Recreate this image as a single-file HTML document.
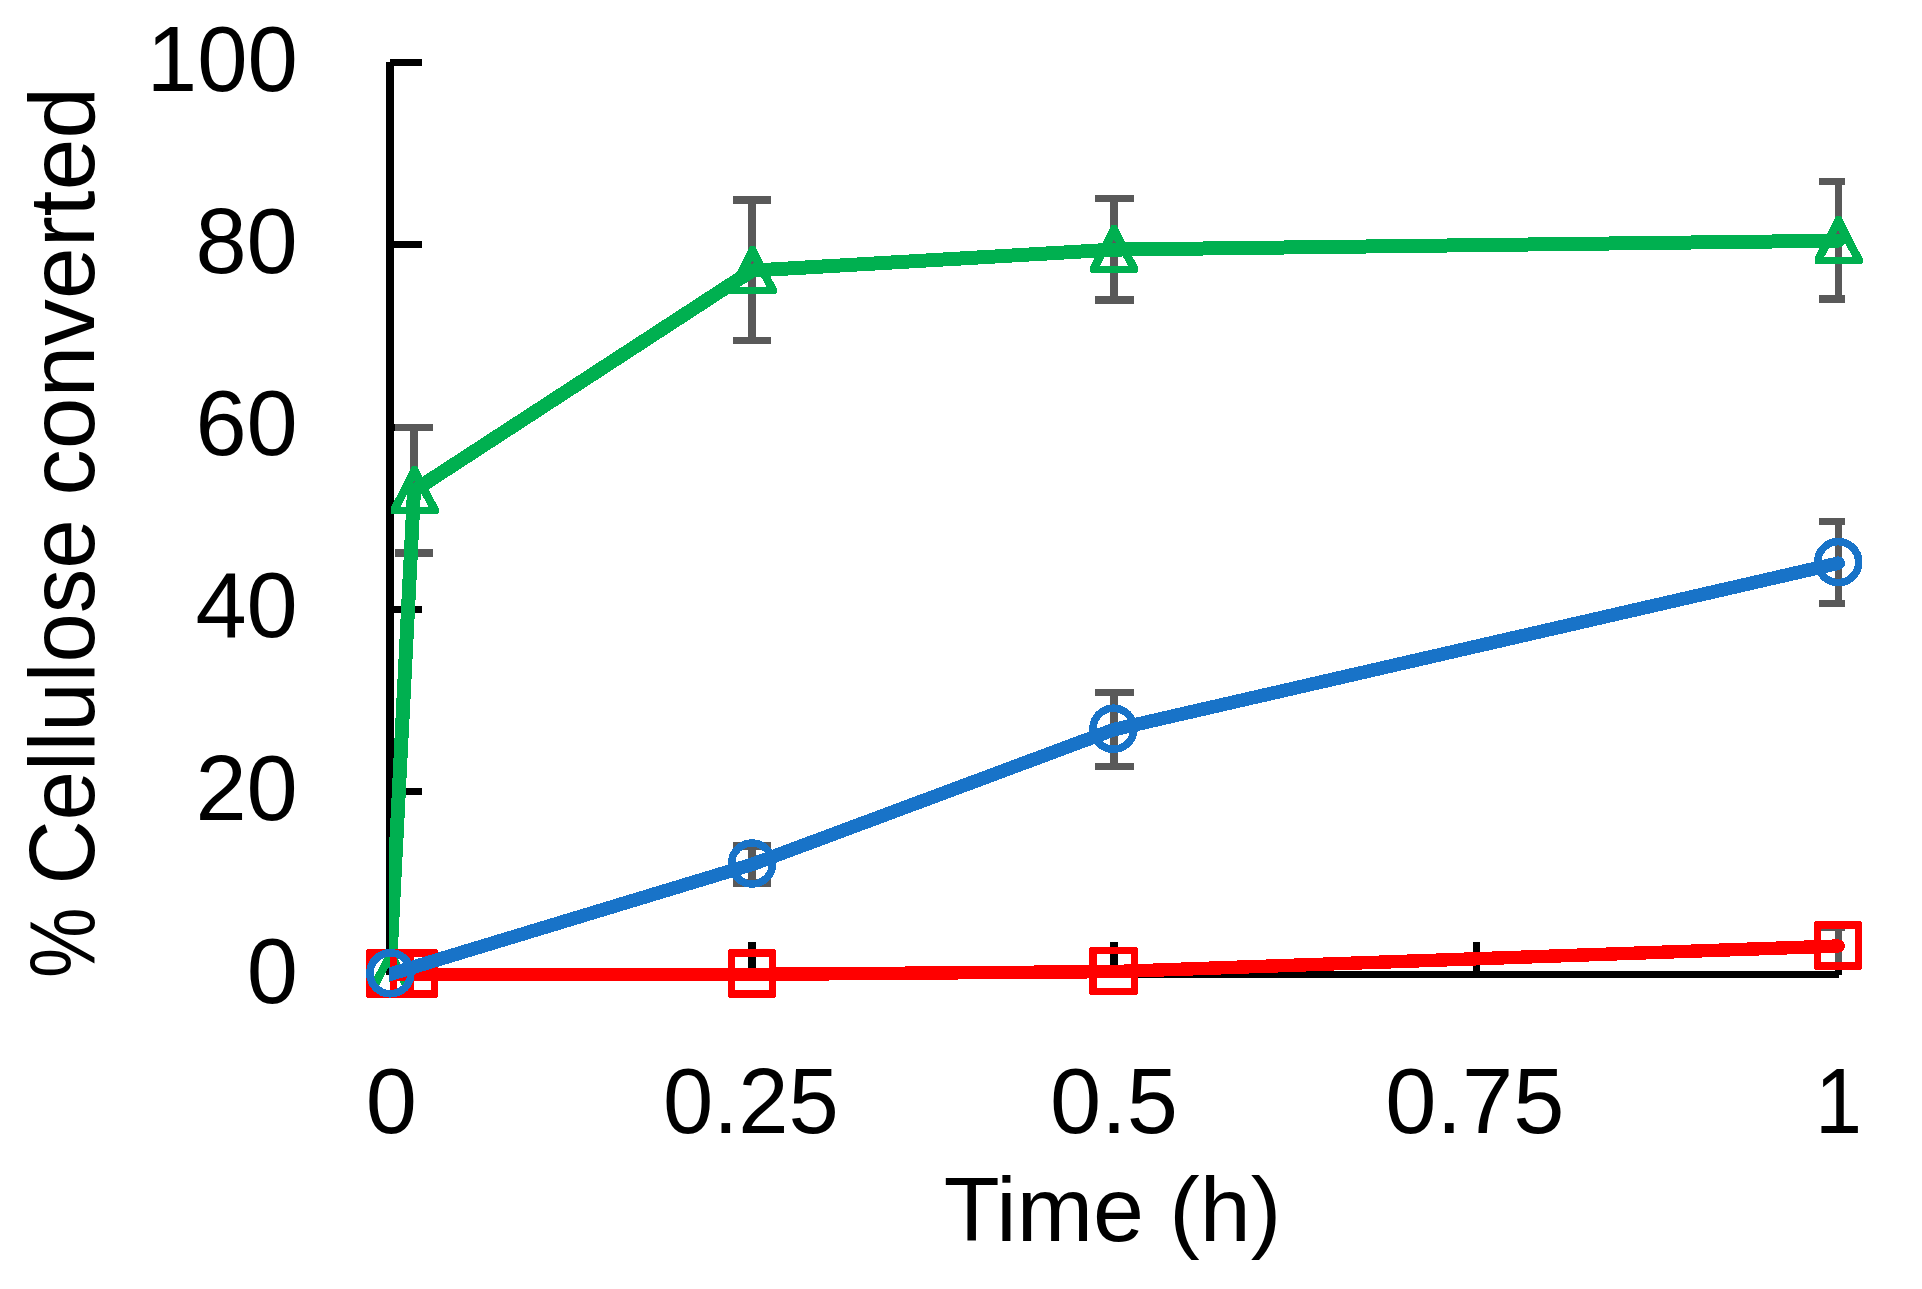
<!DOCTYPE html>
<html lang="en"><head><meta charset="utf-8"><title>Cellulose conversion</title>
<style>html,body{margin:0;padding:0;background:#fff;}body{width:1922px;height:1289px;overflow:hidden;}svg{display:block;}text{font-family:"Liberation Sans",sans-serif;fill:#000;}</style></head><body>
<svg width="1922" height="1289" viewBox="0 0 1922 1289">
<defs><clipPath id="plot"><rect x="389.1" y="0" width="1455.9" height="1289"/></clipPath></defs>
<rect x="0" y="0" width="1922" height="1289" fill="#fff"/>
<g id="axes" fill="#000" shape-rendering="crispEdges">
<rect x="386" y="62" width="8" height="913"/>
<rect x="390" y="971" width="1449" height="7"/>
<rect x="390" y="59" width="32" height="7"/>
<rect x="390" y="241" width="32" height="7"/>
<rect x="390" y="424" width="32" height="7"/>
<rect x="390" y="606" width="32" height="7"/>
<rect x="390" y="788" width="32" height="7"/>
<rect x="748" y="942" width="8" height="33"/>
<rect x="1110" y="942" width="8" height="33"/>
<rect x="1473" y="942" width="7" height="33"/>
<rect x="1835" y="942" width="7" height="33"/>
</g>
<g id="errorbars" fill="#595959" shape-rendering="crispEdges">
<rect x="410" y="424" width="8" height="133"/><rect x="395" y="424" width="38" height="7"/><rect x="395" y="549" width="38" height="8"/>
<rect x="748" y="196" width="8" height="148"/><rect x="733" y="196" width="38" height="8"/><rect x="733" y="337" width="38" height="7"/>
<rect x="1110" y="195" width="8" height="109"/><rect x="1095" y="195" width="39" height="7"/><rect x="1095" y="296" width="39" height="8"/>
<rect x="1835" y="178" width="7" height="125"/><rect x="1819" y="178" width="26" height="7"/><rect x="1819" y="295" width="26" height="8"/>
<rect x="748" y="842" width="8" height="45"/><rect x="733" y="842" width="38" height="8"/><rect x="733" y="879" width="38" height="8"/>
<rect x="1110" y="689" width="8" height="81"/><rect x="1095" y="689" width="39" height="7"/><rect x="1095" y="763" width="39" height="7"/>
<rect x="1835" y="518" width="7" height="89"/><rect x="1819" y="518" width="26" height="7"/><rect x="1819" y="600" width="26" height="7"/>
<rect x="1835" y="924" width="7" height="46"/><rect x="1819" y="924" width="26" height="7"/><rect x="1819" y="963" width="26" height="7"/>
</g>
<g id="series-green" shape-rendering="crispEdges">
<polyline points="389.6,974.6 414.0,490.6 752.0,270.6 1113.9,249.6 1838.3,240.7" fill="none" stroke="#00b050" stroke-width="14.0" stroke-linecap="round" stroke-linejoin="round" clip-path="url(#plot)"/>
<path fill="#00b050" fill-rule="evenodd" d="M388.1 949.6L393.1 949.6L414.6 992.1L414.6 996.6L413.6 997.6L367.6 997.6L366.6 996.6L366.6 992.1ZM390.4 963.9L404.7 990.9L376.4 990.9Z"/>
<path fill="#00b050" fill-rule="evenodd" d="M412.0 465.9L417.0 465.9L438.5 508.4L438.5 512.9L437.5 513.9L391.5 513.9L390.5 512.9L390.5 508.4ZM414.3 480.2L428.6 507.2L400.3 507.2Z"/>
<path fill="#00b050" fill-rule="evenodd" d="M750.0 245.9L755.0 245.9L776.5 288.4L776.5 292.9L775.5 293.9L729.5 293.9L728.5 292.9L728.5 288.4ZM752.3 260.2L766.6 287.2L738.3 287.2Z"/>
<path fill="#00b050" fill-rule="evenodd" d="M1111.5 224.9L1116.5 224.9L1138.0 267.4L1138.0 271.9L1137.0 272.9L1091.0 272.9L1090.0 271.9L1090.0 267.4ZM1113.8 239.2L1128.1 266.2L1099.8 266.2Z"/>
<path fill="#00b050" fill-rule="evenodd" d="M1836.0 215.8L1841.0 215.8L1862.5 258.4L1862.5 262.9L1861.5 263.9L1815.5 263.9L1814.5 262.9L1814.5 258.4ZM1838.2 230.2L1852.5 257.1L1824.2 257.1Z"/>
</g>
<g id="series-red" shape-rendering="crispEdges">
<polyline points="390.0,974.5 413.8,974.5 752.0,974.4 1113.5,971.6 1838.2,946.0" fill="none" stroke="#ff0000" stroke-width="13.4" stroke-linecap="round" stroke-linejoin="round" clip-path="url(#plot)"/>
<path fill="#ff0000" fill-rule="evenodd" d="M369 949H411Q414 949 414 952V995Q414 998 411 998H369Q366 998 366 995V952Q366 949 369 949ZM373 957H407V990H373Z"/>
<path fill="#ff0000" fill-rule="evenodd" d="M393 949H435Q438 949 438 952V995Q438 998 435 998H393Q390 998 390 995V952Q390 949 393 949ZM397 957H431V990H397Z"/>
<path fill="#ff0000" fill-rule="evenodd" d="M731 949H773Q776 949 776 952V995Q776 998 773 998H731Q728 998 728 995V952Q728 949 731 949ZM735 957H769V990H735Z"/>
<path fill="#ff0000" fill-rule="evenodd" d="M1092 947H1135Q1138 947 1138 950V992Q1138 995 1135 995H1092Q1089 995 1089 992V950Q1089 947 1092 947ZM1097 954H1131V988H1097Z"/>
<path fill="#ff0000" fill-rule="evenodd" d="M1817 921H1859Q1862 921 1862 924V967Q1862 970 1859 970H1817Q1814 970 1814 967V924Q1814 921 1817 921ZM1821 929H1855V962H1821Z"/>
</g>
<g id="series-blue" shape-rendering="crispEdges">
<circle cx="390.4" cy="973.3" r="20.5" fill="none" stroke="#1873c8" stroke-width="7.6"/>
<circle cx="752.1" cy="863.5" r="20.5" fill="none" stroke="#1873c8" stroke-width="7.6"/>
<circle cx="1113.5" cy="728.7" r="20.5" fill="none" stroke="#1873c8" stroke-width="7.6"/>
<circle cx="1838.2" cy="562.1" r="20.5" fill="none" stroke="#1873c8" stroke-width="7.6"/>
<polyline points="390.0,974.2 752.1,864.4 1113.5,729.7 1838.2,563.2" fill="none" stroke="#1873c8" stroke-width="13.6" stroke-linecap="round" stroke-linejoin="round" clip-path="url(#plot)"/>
</g>
<g id="labels" font-size="92.0">
<text x="297.8" y="90.8" text-anchor="end" textLength="151.0" lengthAdjust="spacingAndGlyphs">100</text>
<text x="297.8" y="273.2" text-anchor="end">80</text>
<text x="297.8" y="454.8" text-anchor="end">60</text>
<text x="297.8" y="637.3" text-anchor="end">40</text>
<text x="297.8" y="820.2" text-anchor="end">20</text>
<text x="297.8" y="1002.6" text-anchor="end">0</text>
<text x="391.3" y="1133" text-anchor="middle">0</text>
<text x="750.9" y="1133" text-anchor="middle" textLength="176.0" lengthAdjust="spacingAndGlyphs">0.25</text>
<text x="1114.0" y="1133" text-anchor="middle">0.5</text>
<text x="1474.8" y="1133" text-anchor="middle">0.75</text>
<text x="1838.5" y="1133" text-anchor="middle" textLength="47.0" lengthAdjust="spacingAndGlyphs">1</text>
<text x="1112.5" y="1241.4" text-anchor="middle" font-size="91.5" textLength="337.5" lengthAdjust="spacingAndGlyphs">Time (h)</text>
<text transform="translate(93.7,975) rotate(-90)" font-size="93"><tspan x="-3" textLength="70.5" lengthAdjust="spacingAndGlyphs">%</tspan><tspan x="72" textLength="22" lengthAdjust="spacingAndGlyphs"> </tspan><tspan x="90.5" textLength="365" lengthAdjust="spacingAndGlyphs">Cellulose</tspan><tspan x="456" textLength="24" lengthAdjust="spacingAndGlyphs"> </tspan><tspan x="479.3" textLength="408.7" lengthAdjust="spacingAndGlyphs">converted</tspan></text>
</g>
</svg></body></html>
